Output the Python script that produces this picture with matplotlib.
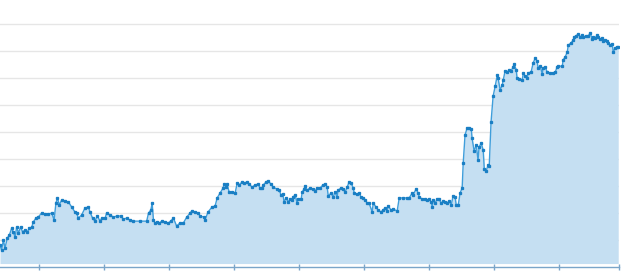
import matplotlib
matplotlib.use("Agg")
import matplotlib.pyplot as plt

# day index of each sample
days = [
    0.0, 0.6, 1.3, 1.9, 2.8, 3.6, 4.5, 5.1, 5.8, 6.4, 7.1, 7.9, 8.7, 9.6, 10.5, 11.3,
    12.2, 12.8, 13.8, 14.7, 16.0, 17.3, 18.6, 19.9, 20.8, 21.5, 22.1, 22.8, 23.7, 25.0,
    26.3, 27.6, 28.8, 29.5, 30.1, 31.4, 32.7, 34.0, 34.6, 35.6, 36.5, 37.4, 38.5, 39.1,
    40.4, 41.0, 42.3, 43.6, 44.9, 46.4, 47.4, 48.7, 50.0, 51.3, 53.8, 56.4, 57.1, 58.0,
    58.5, 59.0, 59.6, 60.3, 61.3, 62.2, 63.5, 64.7, 65.6, 66.7, 67.9, 69.2, 70.5, 71.8,
    73.1, 73.7, 75.0, 76.3, 76.9,
    78.5, 78.8, 80.0, 81.5, 82.7, 83.5, 84.6, 85.8, 86.2, 86.9, 87.3, 88.1, 89.2, 90.4,
    91.2, 91.9, 93.1, 93.8, 95.0, 95.8, 96.9, 98.1, 99.2, 100.0, 100.8, 101.2, 102.3,
    103.1, 104.2, 105.0, 106.5, 107.3, 108.1, 108.8, 109.2, 110.0, 110.8, 111.5, 112.3,
    112.7, 113.5, 114.2, 114.6, 115.8, 116.2, 116.9, 117.3, 118.1, 119.2, 120.4, 121.2,
    121.9, 123.1, 124.2, 125.0, 125.8, 126.2, 127.3, 128.1, 128.8, 129.6, 130.0, 131.2,
    131.9, 132.7, 133.5, 134.2, 135.0, 135.8, 136.2, 137.3, 138.1, 138.8, 139.6, 140.4,
    141.2, 141.9, 143.1, 143.5, 144.6, 145.4, 146.5, 147.3, 148.1, 148.8, 149.2, 150.4,
    151.2, 152.7, 153.5, 155.0, 156.5, 157.3, 158.5, 158.8, 160.0, 160.8,
    161.2, 162.3, 163.5, 164.2, 165.0, 165.8, 166.2, 166.5, 167.3, 168.1, 168.8, 169.6,
    170.4, 171.2, 171.9, 172.7, 173.5, 174.2, 175.0, 175.4, 176.2, 176.9, 177.7, 178.1,
    178.8, 179.6, 180.4, 181.2, 181.5, 182.3, 183.1, 183.8, 184.2, 185.0, 185.8, 186.2,
    186.9, 187.7, 188.1, 188.8, 189.6, 190.4, 191.2, 191.5, 192.3, 193.1, 193.5, 194.2,
    195.0, 195.8, 196.5, 197.3, 197.7, 198.5, 198.8, 199.6, 200.8, 201.2, 201.9, 202.7,
    203.1, 204.2, 205.0, 205.8, 206.5, 206.9, 207.7, 208.5, 208.8, 209.6, 210.4, 211.5,
    212.7, 213.5, 214.2, 214.6, 216.2, 216.5, 217.3, 218.1, 218.5, 219.6, 220.4, 220.8,
    221.5, 222.3, 223.1, 223.8, 224.2, 225.4, 226.2, 226.9, 227.7, 228.1, 228.8, 229.6,
    230.0, 230.8, 231.5, 231.9, 232.7, 233.5, 233.8, 234.6, 235.4, 235.8, 236.5, 237.3,
    237.7,
]

values = [
    8.1, 6.3, 10.0, 7.0, 10.7, 11.9, 14.4, 13.0, 11.1, 14.8, 12.6, 14.8, 13.0, 13.7, 13.0, 14.4,
    14.8, 16.7, 18.1, 18.5, 20.0, 19.6, 19.6, 20.0, 17.4, 23.7, 25.6, 23.0, 24.8, 24.4,
    24.1, 22.2, 20.4, 20.0, 18.1, 19.3, 21.9, 22.2, 20.4, 18.1, 17.0, 18.9, 17.0, 18.1,
    18.1, 20.0, 19.3, 18.5, 18.9, 18.9, 17.8, 18.1, 17.4, 17.0, 17.0, 17.0, 20.0, 21.1,
    23.7, 17.4, 16.3, 16.7, 16.3, 17.0, 16.7, 16.3, 17.0, 18.1, 15.2, 16.3, 16.3, 18.5,
    20.0, 20.7, 20.4, 20.0, 18.9,
    18.5, 17.4, 20.4, 22.2, 22.6, 25.6, 27.4, 29.3, 30.7, 29.6, 30.7, 27.8, 27.8, 27.4,
    31.1, 30.4, 31.5, 31.1, 31.5, 30.7, 29.6, 30.4, 30.7, 29.3, 29.3, 30.4, 31.5,
    31.9, 30.7, 29.6, 28.9, 28.5, 26.7, 27.0, 24.1, 25.6, 24.1, 25.2, 24.8,
    25.9, 26.7, 23.7, 25.2, 25.2, 27.8, 28.9, 30.0, 28.5, 29.3, 28.9, 28.1,
    29.3, 29.3, 30.4, 30.7, 29.6, 26.3, 27.4, 25.9, 27.8, 25.9, 28.5, 29.3,
    28.9, 27.8, 29.6, 31.5, 31.1, 29.3, 27.4, 27.0, 27.4, 25.9, 25.6, 24.8,
    23.7, 23.7, 20.4, 23.7, 22.2, 21.1, 20.4, 21.1, 21.9, 20.7, 22.6, 21.1,
    21.5, 20.7, 25.6, 25.6, 25.6, 25.6, 27.4, 26.7, 28.9, 27.4,
    25.9, 25.2, 25.2, 24.8, 25.2, 24.1, 22.2, 24.8, 23.7, 25.2, 25.2, 23.7,
    24.4, 24.1, 23.7, 24.4, 23.0, 26.3, 25.9, 23.0, 23.0, 27.4, 29.3, 38.5,
    48.9, 51.5, 51.5, 51.1, 47.8, 43.0, 45.2, 39.6, 44.4, 45.9, 43.3, 36.3,
    35.6, 37.8, 37.4, 53.7, 63.3, 67.0, 71.1, 70.0, 65.6, 67.4, 69.3, 72.6,
    72.2, 73.0, 72.6, 74.1, 75.2, 73.0, 70.0, 69.6, 69.3, 71.9, 70.7, 70.0,
    71.9, 72.2, 75.6, 77.4, 76.3, 73.7, 74.4, 71.5, 73.7, 74.1, 72.2, 71.9,
    71.9, 72.2, 74.1, 74.4, 74.4, 76.7, 77.8, 79.6, 82.2, 83.0, 84.1, 85.2,
    85.6, 86.3, 85.2, 85.9, 85.2, 85.6, 85.6, 86.7, 84.4, 85.2, 84.8, 85.9,
    85.2, 84.4, 84.8, 83.7, 84.1, 83.7, 83.0, 82.2, 82.6, 79.6, 81.1, 81.5,
    81.5,
]

tick_days = [15, 40, 65, 90, 115, 140, 165, 190, 215, 238]
tick_labels = ["15", "40", "65", "90", "115", "140", "165", "190", "215", "238"]
grid_levels = [10, 20, 30, 40, 50, 60, 70, 80, 90]

fig = plt.figure(figsize=(6.25, 2.73), dpi=100)
# plot area stops where the data ends, a few pixels short of the right edge
ax = fig.add_axes([0, 0, 619 / 625, 1])

for g in grid_levels:
    ax.axhline(g, color="#e6e6e6", lw=1, zorder=0)

ax.fill_between(days, values, 1.3, color="#c5dff2", lw=0, zorder=1)
ax.plot(days, values, color="#3f9edb", lw=1, marker="s", markersize=1.4,
        markerfacecolor="#1a7fc4", markeredgecolor="#1a7fc4", zorder=2)

ax.set_xlim(0, 238)
ax.set_ylim(-2.2, 98.9)

for s in ["top", "left", "right"]:
    ax.spines[s].set_visible(False)
ax.spines["bottom"].set_position(("data", 0))
ax.spines["bottom"].set_color("#7aa5c9")
ax.spines["bottom"].set_linewidth(1)

ax.set_xticks(tick_days)
ax.set_xticklabels(tick_labels)
ax.tick_params(axis="x", direction="inout", length=4, width=1, color="#7aa5c9",
               labelsize=8, labelcolor="#666666", pad=2)
ax.set_yticks([])

fig.savefig("out.png", dpi=100)
